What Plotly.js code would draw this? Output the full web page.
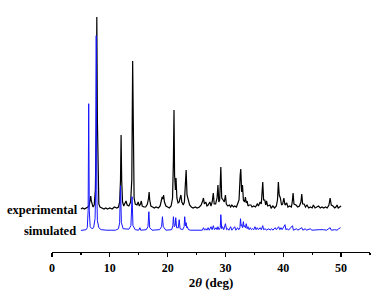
<!DOCTYPE html>
<html>
<head>
<meta charset="utf-8">
<script src="https://cdn.plot.ly/plotly-3.0.1.min.js"></script>
<style>html,body{margin:0;padding:0;background:#fff;}#chart{width:392px;height:296px;}</style>
</head>
<body>
<div id="chart"></div>
<script>
// Experimental pattern: 2θ (deg) and intensity above its own baseline (arbitrary units)
const expX = [5.0,5.3,5.6,5.9,6.2,6.45,6.6,6.7,6.8,6.95,7.1,7.3,7.5,7.65,7.75,7.85,7.95,8.1,8.3,8.6,9.0,9.3,9.6,10.0,10.4,10.8,11.2,11.5,11.7,11.85,11.95,12.05,12.2,12.4,12.6,12.8,13.0,13.3,13.6,13.8,13.95,14.05,14.2,14.4,14.7,14.9,15.1,15.3,15.45,15.6,15.9,16.2,16.5,16.7,16.8,16.9,17.1,17.4,17.7,18.0,18.4,18.7,18.9,19.05,19.2,19.3,19.45,19.7,20.0,20.3,20.6,20.85,21.0,21.1,21.2,21.35,21.45,21.6,21.8,22.0,22.15,22.3,22.45,22.7,22.9,23.05,23.2,23.35,23.55,23.8,24.1,24.4,24.8,25.1,25.5,25.8,26.05,26.2,26.35,26.6,26.8,27.0,27.3,27.5,27.7,27.9,28.05,28.3,28.55,28.7,28.85,29.0,29.2,29.35,29.6,29.8,30.0,30.15,30.4,30.7,30.9,31.1,31.4,31.6,31.9,32.1,32.35,32.55,32.65,32.8,32.95,33.1,33.3,33.45,33.6,33.75,33.9,34.1,34.4,34.6,34.9,35.2,35.5,35.7,36.0,36.2,36.35,36.45,36.6,36.8,36.95,37.1,37.3,37.7,37.9,38.2,38.5,38.8,39.0,39.15,39.3,39.5,39.7,39.9,40.1,40.3,40.6,40.8,41.1,41.4,41.55,41.7,41.85,42.2,42.5,42.8,43.05,43.2,43.35,43.6,43.85,44.1,44.4,44.7,45.0,45.2,45.5,45.8,46.1,46.4,46.7,47.0,47.3,47.6,47.9,48.1,48.3,48.6,48.9,49.1,49.3,49.5,49.7,50.0];
const expY = [1,2,1,2,3,5,10,14,9,4,3,5,20,80,193,90,20,6,3,2,1,2,1,2,1,3,2,3,8,30,75,30,8,4,6,9,5,4,8,30,149,60,12,6,5,8,4,6,9,4,3,3,6,12,18,10,4,3,2,3,2,4,9,13,11,15,8,4,3,2,4,12,50,100,35,20,32,12,7,8,12,15,8,5,8,20,40,15,10,5,3,2,3,2,3,5,9,12,6,8,4,5,8,4,8,17,6,6,12,25,8,10,43,12,10,8,15,6,4,5,3,5,3,4,3,6,10,35,41,18,25,10,8,13,7,9,4,5,5,3,4,3,6,4,8,6,15,28,10,10,5,9,4,5,2,4,2,4,10,28,15,12,5,6,12,5,7,3,4,3,8,17,6,5,3,4,8,16,6,6,3,5,2,3,2,5,2,3,4,2,3,2,3,2,5,12,5,4,2,3,5,2,3,4];

// Simulated pattern: 2θ (deg) and intensity above its own baseline (arbitrary units)
const simX = [5.0,5.5,5.9,6.1,6.25,6.35,6.45,6.6,6.9,7.2,7.45,7.55,7.65,7.75,7.85,8.1,8.5,9.5,11.0,11.5,11.7,11.85,12.0,12.3,13.3,13.65,13.85,14.0,14.4,15.0,15.2,15.35,16.3,16.6,16.75,16.9,17.3,18.6,18.95,19.1,19.25,19.7,20.7,20.9,21.0,21.15,21.3,21.4,21.55,21.85,22.0,22.15,22.6,22.85,22.95,23.1,23.2,23.3,23.4,23.6,24.0,26.0,26.2,26.4,26.6,26.8,27.0,27.2,27.5,27.7,27.9,28.1,28.4,28.55,28.7,28.9,29.1,29.2,29.35,29.5,29.7,30.0,30.2,30.4,30.6,30.9,31.1,31.6,31.8,32.1,32.3,32.5,32.6,32.7,32.8,32.95,33.1,33.2,33.3,33.45,33.6,33.75,33.9,34.1,34.3,34.5,34.7,34.9,35.1,35.3,35.5,35.7,36.0,36.2,36.45,36.6,36.9,37.1,37.5,37.7,38.0,38.2,38.6,38.8,39.2,39.4,39.6,39.8,40.3,40.45,40.7,40.9,41.6,41.75,42.3,42.5,43.2,43.4,43.8,44.0,44.7,44.9,45.5,46.2,47.0,47.5,48.1,48.3,48.9,49.3,49.6,49.9];
const simY = [0.3,0.5,1,3,20,127,20,4,2,3,12,40,195,40,10,3,1,0.5,0.5,2,8,45,8,2,1.5,5,34,5,1,0.5,3,0.5,1,4,19,3,0.5,1,4,14,4,0.5,1,5,14,4,5,13,3,3,11,2,1,4,14,5,8,3,4,1,0.5,0.5,3,0.5,2,0.5,3,0.5,4,1,5,1,3,1,4,1,3,16,2,4,1,7,1,2,0.5,4,0.5,4,0.5,3,1,3,12,5,6,3,9,4,5,3,7,2,4,1,3,1,2,1,4,1,3,1,3,1,5,1,2,0.5,2,0.5,2,0.5,3,1,4,1,3,1,6,1,2,0.5,5,0.5,2,0.5,3,0.5,2,0.5,2,0.5,1,1,1,0.5,3,0.5,1,0.5,2,3];

const xTickVals = [0,10,20,30,40,50];
const xTickText = ['0','10','20','30','40','50'];
const seriesNames = ['experimental','simulated'];

// stacking offsets (layout choice)
const expOffset = 20.7;
const simOffset = 0;

const serif = 'Liberation Serif, Times New Roman, serif';

const traces = [
  {x: expX, y: expY.map(v => v + expOffset), mode: 'lines', name: seriesNames[0],
   line: {color: '#000000', width: 1.2}, hoverinfo: 'skip'},
  {x: simX, y: simY.map(v => v + simOffset), mode: 'lines', name: seriesNames[1],
   line: {color: '#1414ff', width: 1}, hoverinfo: 'skip'}
];

const layout = {
  width: 392, height: 296,
  margin: {l: 52, r: 22, t: 10, b: 44},
  paper_bgcolor: '#ffffff', plot_bgcolor: '#ffffff',
  showlegend: false,
  xaxis: {
    range: [0, 55], showgrid: false, zeroline: false,
    showline: true, linecolor: '#000', linewidth: 1.3,
    ticks: 'outside', ticklen: 4, tickwidth: 1.2, tickcolor: '#000',
    tickvals: xTickVals, ticktext: xTickText,
    minor: {tickvals: [5,15,25,35,45,55], ticks: 'outside', ticklen: 2, tickwidth: 1.2, tickcolor: '#000'},
    tickfont: {family: serif, size: 12, color: '#000', weight: 'bold'},
    title: {text: '2<i>θ</i> (deg)', font: {family: serif, size: 13, color: '#000', weight: 'bold'}, standoff: 4}
  },
  yaxis: {
    range: [-21.3, 220.7], visible: false, showgrid: false, zeroline: false
  },
  annotations: [
    {x: 4.5, y: expOffset, xref: 'x', yref: 'y', text: seriesNames[0], showarrow: false, xshift: 2,
     xanchor: 'right', yanchor: 'middle', font: {family: serif, size: 12.5, color: '#000', weight: 'bold'}},
    {x: 4.5, y: simOffset, xref: 'x', yref: 'y', text: seriesNames[1], showarrow: false, xshift: 0,
     xanchor: 'right', yanchor: 'middle', font: {family: serif, size: 12.5, color: '#000', weight: 'bold'}}
  ]
};

Plotly.newPlot('chart', traces, layout, {staticPlot: true, displayModeBar: false});
</script>
</body>
</html>
